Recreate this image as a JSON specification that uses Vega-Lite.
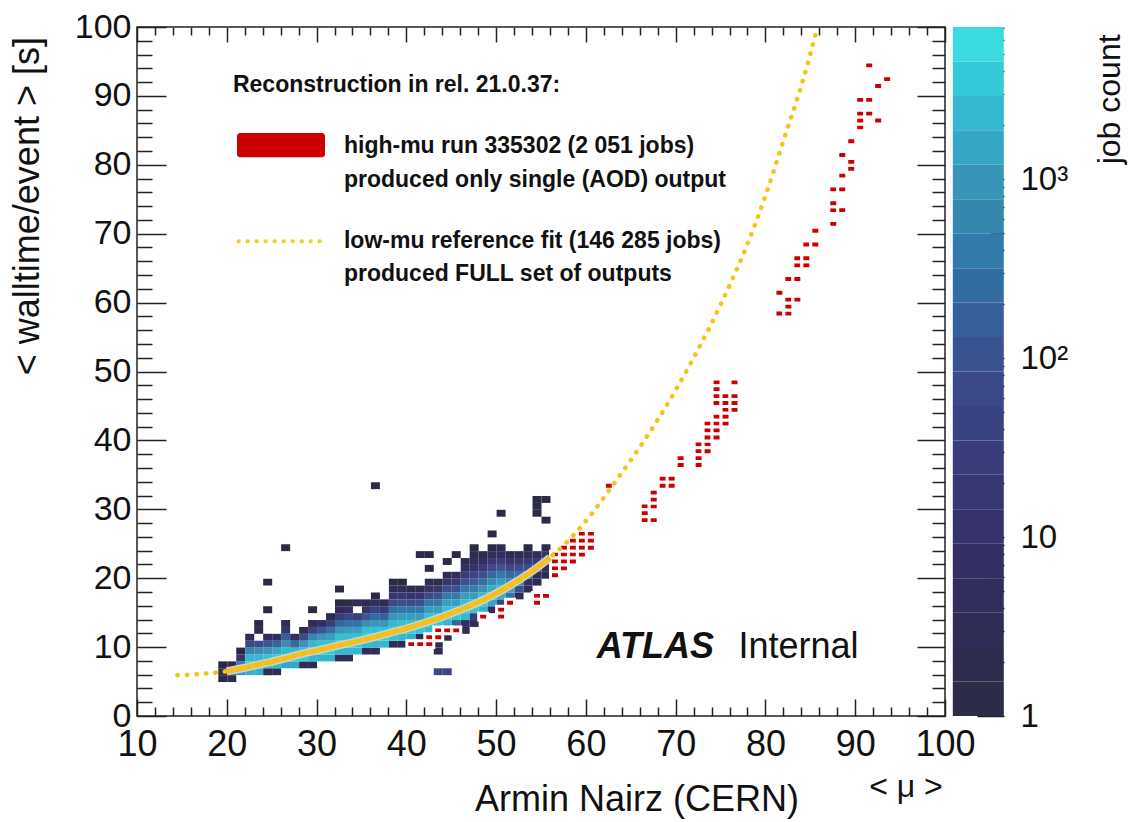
{
"$schema":"https://vega.github.io/schema/vega-lite/v6.json",
"width":808,"height":689,
"autosize":{"type":"none"},
"padding":{"left":137,"top":27,"right":187,"bottom":106},
"background":"white",
"datasets":{
"heat":[
{"x":19,"y":5,"c":1},{"x":19,"y":6,"c":3},{"x":19,"y":7,"c":1},
{"x":20,"y":5,"c":2},{"x":20,"y":6,"c":800},{"x":20,"y":7,"c":2},
{"x":21,"y":6,"c":1200},{"x":21,"y":7,"c":500},{"x":21,"y":8,"c":15},{"x":21,"y":9,"c":1},
{"x":22,"y":6,"c":2000},{"x":22,"y":7,"c":4000},{"x":22,"y":8,"c":2500},{"x":22,"y":9,"c":600},{"x":22,"y":10,"c":60},{"x":22,"y":11,"c":3},
{"x":23,"y":6,"c":2000},{"x":23,"y":7,"c":4000},{"x":23,"y":8,"c":2500},{"x":23,"y":9,"c":800},{"x":23,"y":10,"c":80},{"x":23,"y":12,"c":3},{"x":23,"y":13,"c":1},
{"x":24,"y":6,"c":3},{"x":24,"y":7,"c":3000},{"x":24,"y":8,"c":3000},{"x":24,"y":9,"c":1000},{"x":24,"y":10,"c":120},{"x":24,"y":11,"c":5},{"x":24,"y":15,"c":1},{"x":24,"y":19,"c":1},
{"x":25,"y":6,"c":2},{"x":25,"y":7,"c":2500},{"x":25,"y":8,"c":3500},{"x":25,"y":9,"c":1500},{"x":25,"y":10,"c":200},{"x":25,"y":11,"c":6},
{"x":26,"y":7,"c":1500},{"x":26,"y":8,"c":4000},{"x":26,"y":9,"c":2500},{"x":26,"y":10,"c":800},{"x":26,"y":11,"c":150},{"x":26,"y":12,"c":15},{"x":26,"y":13,"c":2},{"x":26,"y":24,"c":1},
{"x":27,"y":7,"c":1500},{"x":27,"y":8,"c":4000},{"x":27,"y":9,"c":2500},{"x":27,"y":10,"c":250},{"x":27,"y":11,"c":6},
{"x":28,"y":7,"c":3},{"x":28,"y":8,"c":4000},{"x":28,"y":9,"c":3000},{"x":28,"y":10,"c":1000},{"x":28,"y":11,"c":80},{"x":28,"y":12,"c":3},
{"x":29,"y":7,"c":2},{"x":29,"y":8,"c":2500},{"x":29,"y":9,"c":4000},{"x":29,"y":10,"c":2500},{"x":29,"y":11,"c":600},{"x":29,"y":12,"c":40},{"x":29,"y":13,"c":2},{"x":29,"y":15,"c":1},
{"x":30,"y":8,"c":2000},{"x":30,"y":9,"c":4000},{"x":30,"y":10,"c":3000},{"x":30,"y":11,"c":1000},{"x":30,"y":12,"c":120},{"x":30,"y":13,"c":6},
{"x":31,"y":8,"c":2000},{"x":31,"y":9,"c":4000},{"x":31,"y":10,"c":3000},{"x":31,"y":11,"c":1200},{"x":31,"y":12,"c":300},{"x":31,"y":13,"c":30},{"x":31,"y":14,"c":3},
{"x":32,"y":8,"c":5},{"x":32,"y":9,"c":2500},{"x":32,"y":10,"c":4000},{"x":32,"y":11,"c":3000},{"x":32,"y":12,"c":1000},{"x":32,"y":13,"c":200},{"x":32,"y":14,"c":25},{"x":32,"y":15,"c":3},{"x":32,"y":16,"c":1},{"x":32,"y":18,"c":1},
{"x":33,"y":8,"c":3},{"x":33,"y":9,"c":2500},{"x":33,"y":10,"c":4000},{"x":33,"y":11,"c":3000},{"x":33,"y":12,"c":1200},{"x":33,"y":13,"c":300},{"x":33,"y":14,"c":60},{"x":33,"y":15,"c":8},{"x":33,"y":16,"c":2},
{"x":34,"y":9,"c":2500},{"x":34,"y":10,"c":4000},{"x":34,"y":11,"c":3000},{"x":34,"y":12,"c":1200},{"x":34,"y":13,"c":300},{"x":34,"y":14,"c":30},{"x":34,"y":16,"c":2},
{"x":35,"y":9,"c":3},{"x":35,"y":10,"c":2500},{"x":35,"y":11,"c":4000},{"x":35,"y":12,"c":3000},{"x":35,"y":13,"c":800},{"x":35,"y":14,"c":120},{"x":35,"y":15,"c":12},{"x":35,"y":16,"c":2},
{"x":36,"y":9,"c":3},{"x":36,"y":10,"c":2500},{"x":36,"y":11,"c":4000},{"x":36,"y":12,"c":3000},{"x":36,"y":13,"c":1000},{"x":36,"y":14,"c":250},{"x":36,"y":15,"c":40},{"x":36,"y":16,"c":6},{"x":36,"y":17,"c":1},{"x":36,"y":33,"c":1},
{"x":37,"y":10,"c":2500},{"x":37,"y":11,"c":4000},{"x":37,"y":12,"c":3000},{"x":37,"y":13,"c":1000},{"x":37,"y":14,"c":180},{"x":37,"y":15,"c":20},{"x":37,"y":16,"c":2},
{"x":38,"y":10,"c":3},{"x":38,"y":11,"c":3000},{"x":38,"y":12,"c":4000},{"x":38,"y":13,"c":2500},{"x":38,"y":14,"c":1000},{"x":38,"y":15,"c":300},{"x":38,"y":16,"c":70},{"x":38,"y":17,"c":15},{"x":38,"y":18,"c":4},{"x":38,"y":19,"c":1},
{"x":39,"y":10,"c":3},{"x":39,"y":11,"c":2500},{"x":39,"y":12,"c":4000},{"x":39,"y":13,"c":3000},{"x":39,"y":14,"c":1200},{"x":39,"y":15,"c":350},{"x":39,"y":16,"c":90},{"x":39,"y":17,"c":20},{"x":39,"y":18,"c":4},{"x":39,"y":19,"c":1},
{"x":40,"y":10,"c":2},{"x":40,"y":11,"c":2000},{"x":40,"y":12,"c":4000},{"x":40,"y":13,"c":3000},{"x":40,"y":14,"c":1200},{"x":40,"y":15,"c":350},{"x":40,"y":16,"c":70},{"x":40,"y":17,"c":12},{"x":40,"y":18,"c":2},
{"x":41,"y":11,"c":4},{"x":41,"y":12,"c":3500},{"x":41,"y":13,"c":3000},{"x":41,"y":14,"c":1200},{"x":41,"y":15,"c":400},{"x":41,"y":16,"c":90},{"x":41,"y":17,"c":15},{"x":41,"y":18,"c":2},{"x":41,"y":23,"c":1},
{"x":42,"y":11,"c":3},{"x":42,"y":12,"c":2500},{"x":42,"y":13,"c":4000},{"x":42,"y":14,"c":3000},{"x":42,"y":15,"c":1200},{"x":42,"y":16,"c":350},{"x":42,"y":17,"c":70},{"x":42,"y":18,"c":12},{"x":42,"y":19,"c":2},{"x":42,"y":21,"c":1},{"x":42,"y":23,"c":1},
{"x":43,"y":6,"c":60},{"x":43,"y":9,"c":2},{"x":43,"y":10,"c":2},{"x":43,"y":11,"c":3},{"x":43,"y":12,"c":40},{"x":43,"y":13,"c":3500},{"x":43,"y":14,"c":3000},{"x":43,"y":15,"c":1200},{"x":43,"y":16,"c":400},{"x":43,"y":17,"c":90},{"x":43,"y":18,"c":15},{"x":43,"y":19,"c":2},
{"x":44,"y":6,"c":60},{"x":44,"y":11,"c":2},{"x":44,"y":12,"c":5},{"x":44,"y":13,"c":2500},{"x":44,"y":14,"c":4000},{"x":44,"y":15,"c":3000},{"x":44,"y":16,"c":1200},{"x":44,"y":17,"c":400},{"x":44,"y":18,"c":90},{"x":44,"y":19,"c":15},{"x":44,"y":20,"c":2},{"x":44,"y":22,"c":1},
{"x":45,"y":12,"c":3},{"x":45,"y":13,"c":200},{"x":45,"y":14,"c":3500},{"x":45,"y":15,"c":3000},{"x":45,"y":16,"c":1200},{"x":45,"y":17,"c":400},{"x":45,"y":18,"c":100},{"x":45,"y":19,"c":20},{"x":45,"y":20,"c":4},{"x":45,"y":23,"c":1},
{"x":46,"y":12,"c":2},{"x":46,"y":13,"c":8},{"x":46,"y":14,"c":2500},{"x":46,"y":15,"c":4000},{"x":46,"y":16,"c":3000},{"x":46,"y":17,"c":1200},{"x":46,"y":18,"c":400},{"x":46,"y":19,"c":100},{"x":46,"y":20,"c":25},{"x":46,"y":21,"c":6},{"x":46,"y":22,"c":2},
{"x":47,"y":13,"c":3},{"x":47,"y":14,"c":30},{"x":47,"y":15,"c":3500},{"x":47,"y":16,"c":3000},{"x":47,"y":17,"c":1200},{"x":47,"y":18,"c":450},{"x":47,"y":19,"c":150},{"x":47,"y":20,"c":45},{"x":47,"y":21,"c":12},{"x":47,"y":22,"c":5},{"x":47,"y":23,"c":2},{"x":47,"y":24,"c":1},
{"x":48,"y":14,"c":4},{"x":48,"y":15,"c":2000},{"x":48,"y":16,"c":4000},{"x":48,"y":17,"c":2500},{"x":48,"y":18,"c":900},{"x":48,"y":19,"c":300},{"x":48,"y":20,"c":90},{"x":48,"y":21,"c":25},{"x":48,"y":22,"c":6},{"x":48,"y":23,"c":2},
{"x":49,"y":15,"c":5},{"x":49,"y":16,"c":1500},{"x":49,"y":17,"c":3000},{"x":49,"y":18,"c":2000},{"x":49,"y":19,"c":700},{"x":49,"y":20,"c":220},{"x":49,"y":21,"c":70},{"x":49,"y":22,"c":18},{"x":49,"y":23,"c":5},{"x":49,"y":24,"c":1},{"x":49,"y":26,"c":1},
{"x":50,"y":15,"c":3},{"x":50,"y":16,"c":60},{"x":50,"y":17,"c":2000},{"x":50,"y":18,"c":2500},{"x":50,"y":19,"c":1200},{"x":50,"y":20,"c":400},{"x":50,"y":21,"c":120},{"x":50,"y":22,"c":30},{"x":50,"y":23,"c":6},{"x":50,"y":24,"c":2},{"x":50,"y":29,"c":1},
{"x":51,"y":16,"c":3},{"x":51,"y":17,"c":300},{"x":51,"y":18,"c":1500},{"x":51,"y":19,"c":700},{"x":51,"y":20,"c":220},{"x":51,"y":21,"c":60},{"x":51,"y":22,"c":12},{"x":51,"y":23,"c":2},
{"x":52,"y":17,"c":3},{"x":52,"y":18,"c":100},{"x":52,"y":19,"c":800},{"x":52,"y":20,"c":300},{"x":52,"y":21,"c":80},{"x":52,"y":22,"c":15},{"x":52,"y":23,"c":3},
{"x":53,"y":18,"c":2},{"x":53,"y":19,"c":8},{"x":53,"y":20,"c":200},{"x":53,"y":21,"c":80},{"x":53,"y":22,"c":20},{"x":53,"y":23,"c":5},{"x":53,"y":24,"c":1},
{"x":54,"y":19,"c":2},{"x":54,"y":20,"c":5},{"x":54,"y":21,"c":80},{"x":54,"y":22,"c":25},{"x":54,"y":23,"c":4},{"x":54,"y":29,"c":1},{"x":54,"y":30,"c":1},{"x":54,"y":31,"c":1},
{"x":55,"y":20,"c":2},{"x":55,"y":21,"c":4},{"x":55,"y":22,"c":40},{"x":55,"y":23,"c":12},{"x":55,"y":24,"c":2},{"x":55,"y":28,"c":1},{"x":55,"y":31,"c":1}
],
"red":[
{"x":62,"y":33},{"x":59,"y":26},{"x":60,"y":26},{"x":58,"y":25},{"x":59,"y":25},{"x":60,"y":25},
{"x":57,"y":24},{"x":58,"y":24},{"x":59,"y":24},{"x":60,"y":24},{"x":56,"y":23},{"x":57,"y":23},{"x":58,"y":23},{"x":59,"y":23},
{"x":56,"y":22},{"x":57,"y":22},{"x":58,"y":22},{"x":56,"y":21},{"x":57,"y":21},{"x":56,"y":20},
{"x":54,"y":17},{"x":55,"y":17},{"x":54,"y":16},{"x":51,"y":16},{"x":50,"y":15},{"x":50,"y":14},{"x":48,"y":14},
{"x":43,"y":12},{"x":44,"y":12},{"x":45,"y":12},{"x":42,"y":11},{"x":43,"y":11},{"x":40,"y":10},{"x":41,"y":10},{"x":42,"y":10},
{"x":66,"y":30},{"x":67,"y":30},{"x":66,"y":29},{"x":66,"y":28},{"x":67,"y":28},{"x":67,"y":31},{"x":67,"y":32},
{"x":68,"y":34},{"x":69,"y":34},{"x":68,"y":33},{"x":69,"y":33},{"x":70,"y":37},{"x":70,"y":36},
{"x":72,"y":39},{"x":72,"y":38},{"x":72,"y":37},{"x":72,"y":36},{"x":73,"y":39},{"x":73,"y":38},{"x":73,"y":42},{"x":73,"y":41},{"x":73,"y":40},
{"x":74,"y":43},{"x":74,"y":42},{"x":74,"y":41},{"x":74,"y":40},{"x":74,"y":48},{"x":74,"y":47},{"x":74,"y":46},{"x":74,"y":45},
{"x":75,"y":46},{"x":75,"y":45},{"x":75,"y":44},{"x":75,"y":43},{"x":75,"y":42},{"x":76,"y":48},{"x":76,"y":46},{"x":76,"y":45},{"x":76,"y":44},
{"x":81,"y":58},{"x":82,"y":58},{"x":82,"y":59},{"x":82,"y":60},{"x":83,"y":60},{"x":81,"y":61},{"x":82,"y":63},{"x":83,"y":63},
{"x":83,"y":65},{"x":84,"y":65},{"x":83,"y":66},{"x":84,"y":66},{"x":84,"y":68},{"x":85,"y":68},{"x":85,"y":70},
{"x":87,"y":71},{"x":87,"y":73},{"x":88,"y":73},{"x":87,"y":74},{"x":87,"y":76},{"x":88,"y":76},{"x":88,"y":78},{"x":89,"y":79},{"x":89,"y":80},{"x":88,"y":81},{"x":89,"y":83},
{"x":90,"y":85},{"x":90,"y":86},{"x":92,"y":86},{"x":90,"y":87},{"x":91,"y":87},{"x":90,"y":89},{"x":91,"y":89},{"x":92,"y":91},{"x":93,"y":92},{"x":91,"y":94}
],
"fit":[
{"x":14.5,"y":5.9},{"x":16,"y":6.0},{"x":18,"y":6.2},{"x":20,"y":6.5},{"x":22,"y":7.0},{"x":24,"y":7.6},{"x":26,"y":8.2},{"x":28,"y":8.9},{"x":30,"y":9.5},{"x":32,"y":10.1},{"x":34,"y":10.7},{"x":36,"y":11.3},{"x":38,"y":12.0},{"x":40,"y":12.7},{"x":42,"y":13.5},{"x":44,"y":14.4},{"x":46,"y":15.4},{"x":48,"y":16.5},{"x":50,"y":17.8},{"x":52,"y":19.3},{"x":54,"y":21.0},{"x":56,"y":23.0},{"x":58,"y":25.4},{"x":60,"y":28.3},{"x":62,"y":31.7},{"x":64,"y":35.3},{"x":66,"y":39.0},{"x":68,"y":43.0},{"x":70,"y":47.3},{"x":72,"y":52.0},{"x":74,"y":57.0},{"x":76,"y":62.5},{"x":78,"y":68.5},{"x":80,"y":75.5},{"x":82,"y":83.5},{"x":84,"y":91.5},{"x":85.8,"y":100}
],
"cbar":[
{"lo":1,"hi":1.557,"c":1.248},{"lo":1.557,"hi":2.427,"c":1.944},{"lo":2.427,"hi":3.78,"c":3.029},{"lo":3.78,"hi":5.888,"c":4.718},{"lo":5.888,"hi":9.173,"c":7.35},
{"lo":9.173,"hi":14.29,"c":11.45},{"lo":14.29,"hi":22.26,"c":17.83},{"lo":22.26,"hi":34.67,"c":27.78},{"lo":34.67,"hi":54.01,"c":43.28},{"lo":54.01,"hi":84.14,"c":67.41},
{"lo":84.14,"hi":131.1,"c":105},{"lo":131.1,"hi":204.2,"c":163.6},{"lo":204.2,"hi":318.1,"c":254.9},{"lo":318.1,"hi":495.5,"c":397},{"lo":495.5,"hi":771.9,"c":618.5},
{"lo":771.9,"hi":1202,"c":963.5},{"lo":1202,"hi":1873,"c":1501},{"lo":1873,"hi":2917,"c":2338},{"lo":2917,"hi":4544,"c":3642},{"lo":4544,"hi":7079,"c":5673}
]
},
"layer":[
{"data":{"name":"heat"},"mark":{"type":"rect"},
 "encoding":{
  "x":{"field":"x","type":"quantitative","bin":{"binned":true,"step":1},"scale":{"domain":[10,100],"nice":false,"zero":false},
       "axis":{"orient":"bottom","values":[10,20,30,40,50,60,70,80,90,100],"tickSize":-17,"labelFontSize":36,"labelPadding":28,"title":null}},
  "y":{"field":"y","type":"quantitative","bin":{"binned":true,"step":1},"scale":{"domain":[0,100],"nice":false,"zero":false},
       "axis":{"orient":"left","values":[0,10,20,30,40,50,60,70,80,90,100],"tickSize":-29,"labelFontSize":34,"labelPadding":35,"title":null}},
  "color":{"field":"c","type":"quantitative","scale":{"type":"log","domain":[1,7079],"range":["#2b2a45","#342f68","#3c4c8c","#3a8db0","#40e3e3"]},"legend":null}
 }},
{"data":{"name":"red"},"mark":{"type":"rect","color":"#cc0000","stroke":"white","strokeWidth":3},
 "encoding":{
  "x":{"field":"x","type":"quantitative","bin":{"binned":true,"step":1},"scale":{"domain":[10,100],"nice":false,"zero":false},
       "axis":{"orient":"bottom","values":[12,14,16,18,22,24,26,28,32,34,36,38,42,44,46,48,52,54,56,58,62,64,66,68,72,74,76,78,82,84,86,88,92,94,96,98],"tickSize":-9,"labels":false,"title":null}},
  "y":{"field":"y","type":"quantitative","bin":{"binned":true,"step":1},"scale":{"domain":[0,100],"nice":false,"zero":false},
       "axis":{"orient":"left","values":[2,4,6,8,12,14,16,18,22,24,26,28,32,34,36,38,42,44,46,48,52,54,56,58,62,64,66,68,72,74,76,78,82,84,86,88,92,94,96,98],"tickSize":-15,"labels":false,"title":null}}
 }},
{"data":{"name":"fit"},"transform":[{"filter":"datum.x >= 19.5 && datum.x <= 57"}],
 "mark":{"type":"line","color":"#d2d2d2","strokeWidth":8,"interpolate":"monotone"},
 "encoding":{
  "x":{"field":"x","type":"quantitative","scale":{"domain":[10,100],"nice":false,"zero":false},"axis":null},
  "y":{"field":"y","type":"quantitative","scale":{"domain":[0,100],"nice":false,"zero":false},"axis":null}
 }},
{"data":{"name":"fit"},"transform":[{"filter":"datum.x >= 19.5 && datum.x <= 57"}],
 "mark":{"type":"line","color":"#f3bd1c","strokeWidth":5,"interpolate":"monotone"},
 "encoding":{
  "x":{"field":"x","type":"quantitative","scale":{"domain":[10,100],"nice":false,"zero":false},
       "axis":{"orient":"top","values":[12,14,16,18,22,24,26,28,32,34,36,38,42,44,46,48,52,54,56,58,62,64,66,68,72,74,76,78,82,84,86,88,92,94,96,98],"tickSize":-8,"labels":false,"title":null}},
  "y":{"field":"y","type":"quantitative","scale":{"domain":[0,100],"nice":false,"zero":false},
       "axis":{"orient":"right","values":[2,4,6,8,12,14,16,18,22,24,26,28,32,34,36,38,42,44,46,48,52,54,56,58,62,64,66,68,72,74,76,78,82,84,86,88,92,94,96,98],"tickSize":-13,"labels":false,"title":null}}
 }},
{"data":{"name":"fit"},
 "mark":{"type":"line","color":"#f4c41c","strokeWidth":4.5,"strokeDash":[0.5,9],"strokeCap":"round","interpolate":"monotone"},
 "encoding":{
  "x":{"field":"x","type":"quantitative","scale":{"domain":[10,100],"nice":false,"zero":false},
       "axis":{"orient":"top","values":[10,20,30,40,50,60,70,80,90,100],"tickSize":-15,"labels":false,"title":null}},
  "y":{"field":"y","type":"quantitative","scale":{"domain":[0,100],"nice":false,"zero":false},
       "axis":{"orient":"right","values":[0,10,20,30,40,50,60,70,80,90,100],"tickSize":-28,"labels":false,"title":null}}
 }},
{"data":{"name":"cbar"},"mark":{"type":"rect"},
 "encoding":{
  "x":{"datum":100.87,"type":"quantitative","scale":{"domain":[10,100],"nice":false,"zero":false},"axis":null},
  "x2":{"datum":106.55},
  "y":{"field":"lo","type":"quantitative","scale":{"type":"log","domain":[1,7079],"nice":false},
       "axis":{"orient":"right","offset":59,"values":[1,10,100,1000],"tickSize":-27,"tickColor":"#1b1d33","labelFontSize":33,"labelPadding":43,
               "labelExpr":"datum.value >= 1000 ? '10³' : datum.value >= 100 ? '10²' : datum.value >= 10 ? '10' : '1'","title":null}},
  "y2":{"field":"hi"},
  "color":{"field":"c","type":"quantitative","scale":{"type":"log","domain":[1,7079],"range":["#2b2a45","#342f68","#3c4c8c","#3a8db0","#40e3e3"]},"legend":null}
 }},
{"data":{"name":"cbar"},"mark":{"type":"rect","opacity":0},
 "encoding":{
  "x":{"datum":100.87,"type":"quantitative","scale":{"domain":[10,100],"nice":false,"zero":false},"axis":null},
  "x2":{"datum":106.55},
  "y":{"field":"lo","type":"quantitative","scale":{"type":"log","domain":[1,7079],"nice":false},
       "axis":{"orient":"right","offset":59,"values":[2,3,4,5,6,7,8,9,20,30,40,50,60,70,80,90,200,300,400,500,600,700,800,900,2000,3000,4000,5000,6000,7000],"tickSize":-14,"tickColor":"#1b1d33","labels":false,"title":null}},
  "y2":{"field":"hi"}
 }},
{"data":{"values":[{}]},"mark":{"type":"rect","color":"#cc0000","cornerRadius":3},
 "encoding":{
  "x":{"datum":21.14,"type":"quantitative","scale":{"domain":[10,100],"nice":false,"zero":false},"axis":null},
  "x2":{"datum":30.94},
  "y":{"datum":84.6,"type":"quantitative","scale":{"domain":[0,100],"nice":false,"zero":false},"axis":null},
  "y2":{"datum":81.1}
 }},
{"data":{"values":[{}]},"mark":{"type":"rule","color":"#f0d02a","strokeWidth":4,"strokeDash":[0.5,8.5],"strokeCap":"round"},
 "encoding":{
  "x":{"datum":21.3,"type":"quantitative","scale":{"domain":[10,100],"nice":false,"zero":false},"axis":null},
  "x2":{"datum":30.9},
  "y":{"datum":68.9,"type":"quantitative","scale":{"domain":[0,100],"nice":false,"zero":false},"axis":null}
 }},
{"data":{"values":[{}]},"mark":{"type":"text","align":"left","baseline":"middle","fontSize":23,"fontWeight":"bold","text":"Reconstruction in rel. 21.0.37:"},
 "encoding":{"x":{"datum":20.69,"type":"quantitative","scale":{"domain":[10,100],"nice":false,"zero":false},"axis":null},
  "y":{"datum":91.57,"type":"quantitative","scale":{"domain":[0,100],"nice":false,"zero":false},"axis":null}}},
{"data":{"values":[{}]},"mark":{"type":"text","align":"left","baseline":"middle","fontSize":23,"fontWeight":"bold","text":"high-mu run 335302 (2 051 jobs)"},
 "encoding":{"x":{"datum":33.05,"type":"quantitative","scale":{"domain":[10,100],"nice":false,"zero":false},"axis":null},
  "y":{"datum":82.7,"type":"quantitative","scale":{"domain":[0,100],"nice":false,"zero":false},"axis":null}}},
{"data":{"values":[{}]},"mark":{"type":"text","align":"left","baseline":"middle","fontSize":23,"fontWeight":"bold","text":"produced only single (AOD) output"},
 "encoding":{"x":{"datum":33.05,"type":"quantitative","scale":{"domain":[10,100],"nice":false,"zero":false},"axis":null},
  "y":{"datum":77.76,"type":"quantitative","scale":{"domain":[0,100],"nice":false,"zero":false},"axis":null}}},
{"data":{"values":[{}]},"mark":{"type":"text","align":"left","baseline":"middle","fontSize":23,"fontWeight":"bold","text":"low-mu reference fit (146 285 jobs)"},
 "encoding":{"x":{"datum":33.05,"type":"quantitative","scale":{"domain":[10,100],"nice":false,"zero":false},"axis":null},
  "y":{"datum":68.9,"type":"quantitative","scale":{"domain":[0,100],"nice":false,"zero":false},"axis":null}}},
{"data":{"values":[{}]},"mark":{"type":"text","align":"left","baseline":"middle","fontSize":23,"fontWeight":"bold","text":"produced FULL set of outputs"},
 "encoding":{"x":{"datum":33.05,"type":"quantitative","scale":{"domain":[10,100],"nice":false,"zero":false},"axis":null},
  "y":{"datum":64.1,"type":"quantitative","scale":{"domain":[0,100],"nice":false,"zero":false},"axis":null}}},
{"data":{"values":[{}]},"mark":{"type":"text","align":"left","baseline":"middle","fontSize":36,"fontWeight":"bold","fontStyle":"italic","text":"ATLAS"},
 "encoding":{"x":{"datum":61.2,"type":"quantitative","scale":{"domain":[10,100],"nice":false,"zero":false},"axis":null},
  "y":{"datum":10.0,"type":"quantitative","scale":{"domain":[0,100],"nice":false,"zero":false},"axis":null}}},
{"data":{"values":[{}]},"mark":{"type":"text","align":"left","baseline":"middle","fontSize":36,"text":"Internal"},
 "encoding":{"x":{"datum":77.0,"type":"quantitative","scale":{"domain":[10,100],"nice":false,"zero":false},"axis":null},
  "y":{"datum":10.0,"type":"quantitative","scale":{"domain":[0,100],"nice":false,"zero":false},"axis":null}}},
{"data":{"values":[{}]},"mark":{"type":"text","align":"right","baseline":"middle","fontSize":32,"text":"< μ >"},
 "encoding":{"x":{"datum":99.75,"type":"quantitative","scale":{"domain":[10,100],"nice":false,"zero":false},"axis":null},
  "y":{"datum":-10.3,"type":"quantitative","scale":{"domain":[0,100],"nice":false,"zero":false},"axis":null}}},
{"data":{"values":[{}]},"mark":{"type":"text","align":"center","baseline":"middle","fontSize":36,"text":"Armin Nairz (CERN)"},
 "encoding":{"x":{"datum":65.7,"type":"quantitative","scale":{"domain":[10,100],"nice":false,"zero":false},"axis":null},
  "y":{"datum":-12.2,"type":"quantitative","scale":{"domain":[0,100],"nice":false,"zero":false},"axis":null}}},
{"data":{"values":[{}]},"mark":{"type":"text","align":"center","baseline":"middle","fontSize":32,"angle":270,"text":"job count"},
 "encoding":{"x":{"datum":118.35,"type":"quantitative","scale":{"domain":[10,100],"nice":false,"zero":false},"axis":null},
  "y":{"datum":89.5,"type":"quantitative","scale":{"domain":[0,100],"nice":false,"zero":false},"axis":null}}},
{"data":{"values":[{}]},"mark":{"type":"text","align":"center","baseline":"middle","fontSize":36,"angle":270,"text":"< walltime/event > [s]"},
 "encoding":{"x":{"datum":-2.14,"type":"quantitative","scale":{"domain":[10,100],"nice":false,"zero":false},"axis":null},
  "y":{"datum":74.0,"type":"quantitative","scale":{"domain":[0,100],"nice":false,"zero":false},"axis":null}}}
],
"resolve":{"scale":{"y":"independent"},"axis":{"x":"independent","y":"independent"}},
"config":{
 "view":{"stroke":"#222","strokeWidth":1.5},
 "axis":{"domain":false,"grid":false,"tickColor":"#222","tickWidth":1.5,"labelFont":"Liberation Sans","labelColor":"#111","labelFlush":false,"labelOverlap":false,"labelBound":false},
 "text":{"font":"Liberation Sans","color":"#111"}
}
}
